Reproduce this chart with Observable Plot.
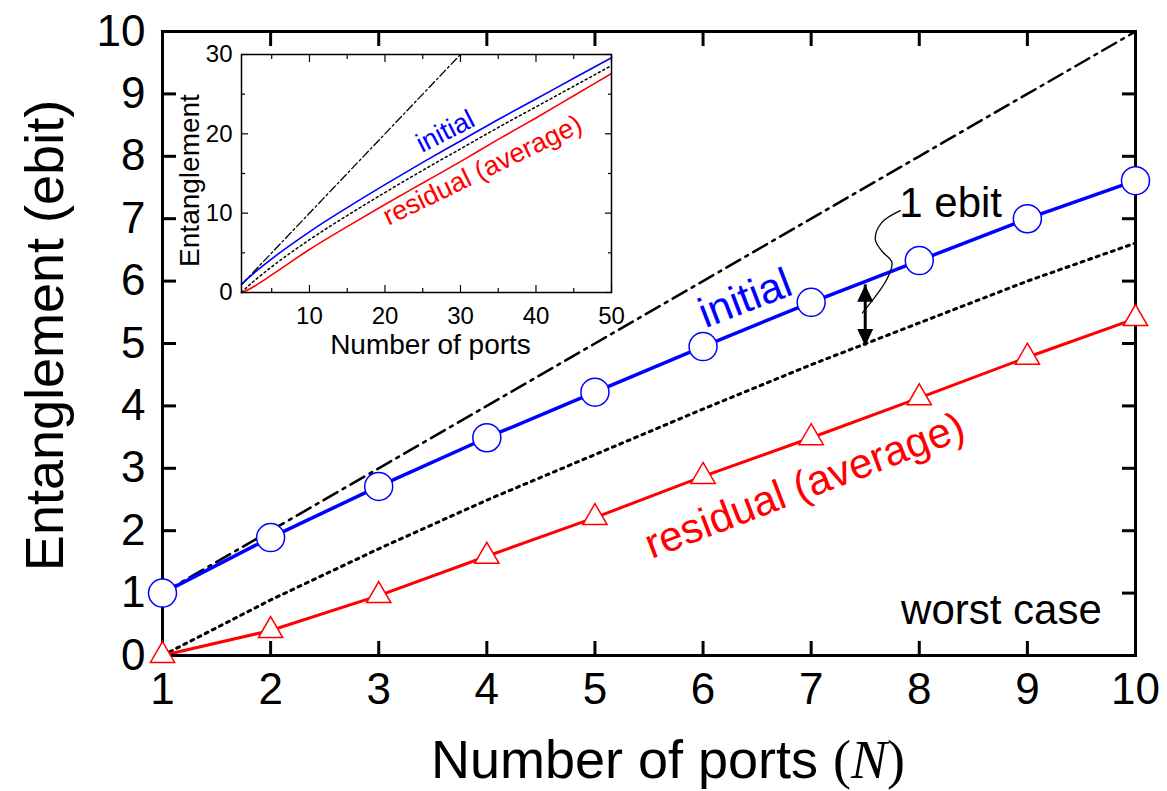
<!DOCTYPE html>
<html><head><meta charset="utf-8">
<script src="https://cdn.jsdelivr.net/npm/d3@7"></script>
<script src="https://cdn.jsdelivr.net/npm/@observablehq/plot@0.6"></script>
<style>
body{margin:0;background:#fff;}
#wrap{position:relative;width:1167px;height:791px;overflow:hidden;}
#wrap svg{position:absolute;}
</style></head><body><div id="wrap"></div>
<script>
// ---- main chart data ----
const ports     = [1, 2, 3, 4, 5, 6, 7, 8, 9, 10];
const initial   = [1.0, 1.89, 2.71, 3.49, 4.22, 4.95, 5.66, 6.33, 7.0, 7.61];
const residual  = [0.0, 0.40, 0.96, 1.59, 2.21, 2.87, 3.49, 4.13, 4.78, 5.40];
const dotted    = [0.0, 0.89, 1.71, 2.49, 3.22, 3.95, 4.66, 5.33, 6.0, 6.61];
const dashdot   = [1, 2, 3, 4, 5, 6, 7, 8, 9, 10];
const xTicks    = [1, 2, 3, 4, 5, 6, 7, 8, 9, 10];
const yTicks    = [0, 1, 2, 3, 4, 5, 6, 7, 8, 9, 10];

// annotation data (data units)
const arrowX = [7.5];
const arrowEnds = [4.96, 5.94];
const leaderX = [7.474, 7.70, 7.747, 7.654, 7.593, 7.654, 7.824];
const leaderY = [5.49, 6.03, 6.30, 6.48, 6.67, 6.94, 7.13];
const labelText = ["initial", "residual (average)", "1 ebit", "worst case"];
const labelX = [6.39, 6.94, 8.29, 8.76];
const labelY = [5.72, 2.72, 7.24, 0.72];

// ---- inset data ----
const insetN        = [1, 2, 3, 5, 10, 15, 20, 25, 30, 35, 40, 45, 50];
const insetInitial  = [1.0, 1.9, 2.72, 4.24, 7.65, 10.7, 13.6, 16.4, 19.1, 21.8, 24.4, 27.0, 29.6];
const insetResidual = [0.0, 0.4, 0.96, 2.22, 5.42, 8.3, 11.1, 13.8, 16.5, 19.3, 22.0, 24.8, 27.6];
const insetDotted   = [0.0, 0.9, 1.72, 3.24, 6.65, 9.7, 12.6, 15.4, 18.1, 20.8, 23.4, 26.0, 28.6];
const insetDashN    = [1, 30];
const insetDashY    = [1, 30];
const insetXMajor   = [10, 20, 30, 40, 50];
const insetXMinor   = [5, 15, 25, 35, 45];
const insetYMajor   = [0, 10, 20, 30];
const insetYMinor   = [5, 15, 25];
const insetLabelText = ["initial", "residual (average)"];
const insetLabelX = [28.0, 32.9];
const insetLabelY = [20.3, 15.4];

const FONT = "'Liberation Sans', Arial, Helvetica, sans-serif";
const SERIF = "'Liberation Serif', 'Times New Roman', serif";
const BLUE = "#0000ff", RED = "#ff0000";

const rows = ports.map((n, i) => ({n, initial: initial[i], residual: residual[i], dotted: dotted[i], dashdot: dashdot[i]}));
const leader = leaderX.map((x, i) => ({x, y: leaderY[i]}));
const labels = labelText.map((t, i) => ({t, x: labelX[i], y: labelY[i]}));
const arrowHeads = [{x: arrowX[0], y: arrowEnds[1], dir: "up"}, {x: arrowX[0], y: arrowEnds[0], dir: "down"}];

const headUp = {draw(ctx) { ctx.moveTo(0, 0); ctx.lineTo(8, 17); ctx.lineTo(-8, 17); ctx.closePath(); }};
const headDown = {draw(ctx) { ctx.moveTo(0, 0); ctx.lineTo(8, -17); ctx.lineTo(-8, -17); ctx.closePath(); }};

const XTITLE = "Number of ports (N)";

const main = Plot.plot({
  width: 1167, height: 791,
  marginLeft: 162, marginRight: 32, marginTop: 31, marginBottom: 136,
  style: {fontFamily: FONT, fontSize: "44px", color: "black", background: "white", overflow: "visible"},
  x: {domain: [1, 10]},
  y: {domain: [0, 10]},
  marks: [
    Plot.line(rows, {x: "n", y: "dashdot", stroke: "black", strokeWidth: 2.5, strokeDasharray: "16,6,3,6"}),
    Plot.line(rows, {x: "n", y: "dotted", stroke: "black", strokeWidth: 3, strokeDasharray: "3,5"}),
    Plot.line(rows, {x: "n", y: "initial", stroke: BLUE, strokeWidth: 3.5}),
    Plot.line(rows, {x: "n", y: "residual", stroke: RED, strokeWidth: 3}),
    Plot.ruleX(arrowX, {x: d => d, y1: arrowEnds[0], y2: arrowEnds[1], stroke: "black", strokeWidth: 3}),
    Plot.dot(arrowHeads.filter(d => d.dir === "up"), {x: "x", y: "y", symbol: headUp, fill: "black", stroke: "none"}),
    Plot.dot(arrowHeads.filter(d => d.dir === "down"), {x: "x", y: "y", symbol: headDown, fill: "black", stroke: "none"}),
    Plot.line(leader, {x: "x", y: "y", curve: "catmull-rom", stroke: "black", strokeWidth: 1.3}),
    Plot.text(labels.slice(0, 1), {x: "x", y: "y", text: "t", fill: BLUE, fontSize: 42, rotate: -21}),
    Plot.text(labels.slice(1, 2), {x: "x", y: "y", text: "t", fill: RED, fontSize: 42, rotate: -21}),
    Plot.text(labels.slice(2), {x: "x", y: "y", text: "t", fill: "black", fontSize: 42}),
    Plot.frame({stroke: "black", strokeWidth: 3}),
    Plot.axisX({ticks: xTicks, tickSize: -14, tickPadding: 31, strokeWidth: 3, label: null, fontSize: 44}),
    Plot.axisX({anchor: "top", ticks: xTicks, tickSize: -14, strokeWidth: 3, tickFormat: () => "", label: null}),
    Plot.axisY({ticks: yTicks, tickSize: -14, tickPadding: 31, strokeWidth: 3, label: null, fontSize: 44}),
    Plot.axisY({anchor: "right", ticks: yTicks, tickSize: -14, strokeWidth: 3, tickFormat: () => "", label: null}),
    Plot.text([XTITLE], {frameAnchor: "bottom", textAnchor: "middle", lineAnchor: "middle", dy: 105, dx: 19, fontSize: 54, fill: "black"}),
    Plot.text(["Entanglement (ebit)"], {frameAnchor: "left", textAnchor: "middle", lineAnchor: "middle", dx: -117, dy: -8, rotate: -90, fontSize: 54, fill: "black"}),
    Plot.dot(rows, {x: "n", y: "initial", r: 14, stroke: BLUE, fill: "white", strokeWidth: 1.5}),
    Plot.dot(rows, {x: "n", y: "residual", symbol: "triangle", r: 9, stroke: RED, fill: "white", strokeWidth: 1.5})
  ]
});
main.style.left = "0px"; main.style.top = "0px";

// italic serif N in x title
d3.select(main).selectAll("text").each(function() {
  if (this.textContent === XTITLE) {
    const t = d3.select(this);
    t.text(null);
    t.append("tspan").text("Number of ports ");
    t.append("tspan").attr("font-family", SERIF).text("(");
    t.append("tspan").attr("font-family", SERIF).attr("font-style", "italic").text("N");
    t.append("tspan").attr("font-family", SERIF).text(")");
  }
});

const irows = insetN.map((n, i) => ({n, initial: insetInitial[i], residual: insetResidual[i], dotted: insetDotted[i]}));
const idash = insetDashN.map((n, i) => ({n, y: insetDashY[i]}));
const ilabels = insetLabelText.map((t, i) => ({t, x: insetLabelX[i], y: insetLabelY[i]}));

const inset = Plot.plot({
  width: 480, height: 330,
  marginLeft: 91, marginRight: 19, marginTop: 14, marginBottom: 78,
  style: {fontFamily: FONT, fontSize: "24px", color: "black", background: "transparent", overflow: "visible"},
  x: {domain: [1, 50]},
  y: {domain: [0, 30]},
  marks: [
    Plot.frame({fill: "white", stroke: "none"}),
    Plot.line(idash, {x: "n", y: "y", stroke: "black", strokeWidth: 1.3, strokeDasharray: "8,3,2,3"}),
    Plot.line(irows, {x: "n", y: "dotted", stroke: "black", strokeWidth: 1.5, strokeDasharray: "2,3", curve: "monotone-x"}),
    Plot.line(irows, {x: "n", y: "initial", stroke: BLUE, strokeWidth: 1.6, curve: "monotone-x"}),
    Plot.line(irows, {x: "n", y: "residual", stroke: RED, strokeWidth: 1.6, curve: "monotone-x"}),
    Plot.text(ilabels.slice(0, 1), {x: "x", y: "y", text: "t", fill: BLUE, fontSize: 27, rotate: -27}),
    Plot.text(ilabels.slice(1), {x: "x", y: "y", text: "t", fill: RED, fontSize: 27, rotate: -26}),
    Plot.frame({stroke: "black", strokeWidth: 1.5}),
    Plot.axisX({ticks: insetXMajor, tickSize: -7, tickPadding: 21, strokeWidth: 1.2, label: null, fontSize: 24}),
    Plot.axisX({ticks: insetXMinor, tickSize: -4, strokeWidth: 1.2, tickFormat: () => "", label: null}),
    Plot.axisX({anchor: "top", ticks: insetXMajor, tickSize: -7, strokeWidth: 1.2, tickFormat: () => "", label: null}),
    Plot.axisX({anchor: "top", ticks: insetXMinor, tickSize: -4, strokeWidth: 1.2, tickFormat: () => "", label: null}),
    Plot.axisY({ticks: insetYMajor, tickSize: -7, tickPadding: 16, strokeWidth: 1.2, label: null, fontSize: 24}),
    Plot.axisY({ticks: insetYMinor, tickSize: -4, strokeWidth: 1.2, tickFormat: () => "", label: null}),
    Plot.axisY({anchor: "right", ticks: insetYMajor, tickSize: -7, strokeWidth: 1.2, tickFormat: () => "", label: null}),
    Plot.axisY({anchor: "right", ticks: insetYMinor, tickSize: -4, strokeWidth: 1.2, tickFormat: () => "", label: null}),
    Plot.text(["Number of ports"], {frameAnchor: "bottom", textAnchor: "middle", lineAnchor: "middle", dy: 53, dx: 4, fontSize: 28, fill: "black"}),
    Plot.text(["Entanglement"], {frameAnchor: "left", textAnchor: "middle", lineAnchor: "middle", dx: -51, dy: 7, rotate: -90, fontSize: 28, fill: "black"})
  ]
});
inset.style.left = "150px"; inset.style.top = "40px";

const wrap = document.getElementById("wrap");
wrap.appendChild(main);
wrap.appendChild(inset);
</script>
</body></html>
